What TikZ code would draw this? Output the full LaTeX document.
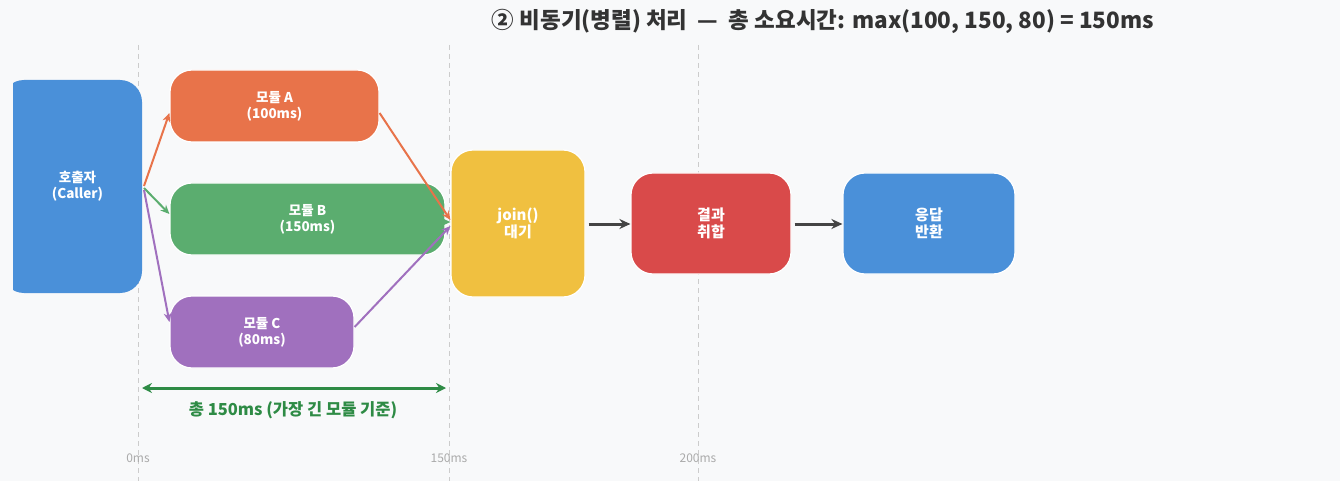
\documentclass[tikz,border=0pt]{standalone}
\usepackage{fontspec}
\setmainfont{Noto Sans CJK KR}
\usetikzlibrary{arrows.meta}
\definecolor{bg}{HTML}{F8F9FA}
\definecolor{cA}{HTML}{E8734A}
\definecolor{cB}{HTML}{5BAD6F}
\definecolor{cC}{HTML}{A070BE}
\definecolor{cJoin}{HTML}{F0C040}
\definecolor{cRed}{HTML}{D94A4A}
\definecolor{cBlue}{HTML}{4A90D9}
\definecolor{gridc}{HTML}{CCCCCC}
\definecolor{gridt}{HTML}{AAAAAA}
\definecolor{dkgreen}{HTML}{2E8B45}
\definecolor{titlec}{HTML}{333333}
\definecolor{flowc}{HTML}{444444}
\tikzset{
  box/.style={draw=white, line width=1.2pt, rounded corners=22pt, text=white,
    font=\fontsize{13.5}{16}\selectfont\bfseries, align=center},
  bigbox/.style={box, font=\fontsize{15}{17}\selectfont\bfseries},
  grid/.style={gridc, dashed, line width=0.8pt, dash pattern=on 5pt off 4pt},
  tick/.style={gridt, font=\fontsize{12}{14}\selectfont},
  conn/.style={line width=2pt, -{Stealth[length=9pt,width=8pt]}},
  flow/.style={flowc, line width=3pt, -{Stealth[length=11pt,width=10pt]}},
}
\begin{document}
\begin{tikzpicture}[x=1pt,y=-1pt]
\fill[bg] (0,0) rectangle (1340,481);
\useasboundingbox (0,0) rectangle (1340,481);
% grid lines
\foreach \gx/\gl in {138/0ms,449/150ms,698/200ms}{
  \draw[grid] (\gx,45) -- (\gx,481);
  \node[tick] at (\gx,458) {\gl};
}
% title
\node[titlec, font=\fontsize{22.5}{26}\selectfont\bfseries] (title) at (823,21)
  {② 비동기(병렬) 처리 \ — \ 총 소요시간: max(100, 150, 80) = 150ms};
% caller (clipped on the left)
\begin{scope}
\clip (13,60) rectangle (200,320);
\fill[cBlue, rounded corners=22pt] (2,80) rectangle (142,293);
\end{scope}
\node[box, draw=none, minimum width=129pt, minimum height=213pt] (caller) at (77.5,186.5) {호출자\\(Caller)};
% modules
\node[box, fill=cA, minimum width=209pt, minimum height=72pt] (A) at (274.5,106) {모듈 A\\(100ms)};
\node[box, fill=cB, minimum width=275pt, minimum height=72pt] (B) at (307.5,219) {모듈 B\\(150ms)};
\node[box, fill=cC, minimum width=184pt, minimum height=72pt] (C) at (262,332) {모듈 C\\(80ms)};
\node[bigbox, fill=cJoin, minimum width=134pt, minimum height=147pt] (join) at (518,223.5) {join()\\대기};
\node[bigbox, fill=cRed, minimum width=160pt, minimum height=101pt] (agg) at (711,223.5) {결과\\취합};
\node[bigbox, fill=cBlue, minimum width=172pt, minimum height=101pt] (resp) at (929,223.5) {응답\\반환};
% connectors
\coordinate (cA0) at (144,186);
\coordinate (cB0) at (144,188);
\coordinate (cC0) at (144,190);
\draw[conn, cA] (cA0) -- (A.west |- 0,113);
\draw[conn, cB] (cB0) -- (B.west |- 0,214);
\draw[conn, cC] (cC0) -- (C.west |- 0,322);
\draw[conn, cA] (A.east |- 0,113) -- (join.west |- 0,220);
\draw[conn, cB] (B.east |- 0,222) -- (join.west |- 0,222);
\draw[conn, cC] (C.east |- 0,327) -- (join.west |- 0,226);
\draw[flow] ([xshift=3pt]join.east |- 0,224) -- (agg.west |- 0,224);
\draw[flow] ([xshift=3pt]agg.east |- 0,224) -- (resp.west |- 0,224);
% total span
\coordinate (s0) at (142,388);
\coordinate (s1) at (446,388);
\draw[dkgreen, line width=3pt, {Stealth[length=10pt,width=10pt]}-{Stealth[length=10pt,width=10pt]}] (s0) -- (s1);
\node[dkgreen, font=\fontsize{16.5}{19}\selectfont\bfseries] (span) at (293,410) {총 150ms (가장 긴 모듈 기준)};
\end{tikzpicture}
\end{document}
